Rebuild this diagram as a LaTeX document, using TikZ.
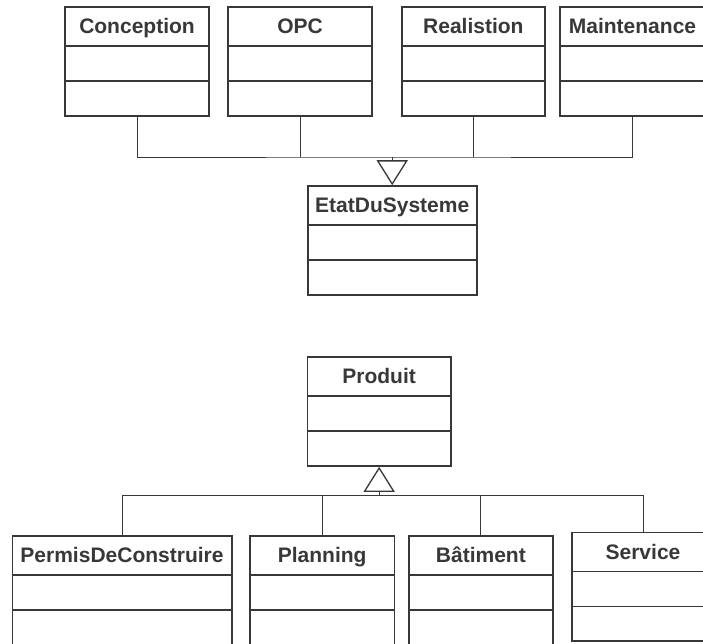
\documentclass[tikz,border=0pt]{standalone}
\usepackage{fontspec}
\setmainfont{Liberation Sans}
\usetikzlibrary{arrows.meta,fit}
\definecolor{ink}{HTML}{383838}
\tikzset{
  clsbox/.style={draw=ink, line width=1.6pt, inner sep=0pt},
  rowline/.style={draw=ink, line width=1.6pt},
  clstitle/.style={text=ink, anchor=base, inner sep=0pt, font=\fontsize{21}{25}\selectfont\bfseries},
  conn/.style={draw=ink, line width=0.9pt},
  gen/.style={conn, -{Triangle[open, length=25pt, width=31pt, line width=1.3pt]}}
}
\newcommand\umlclass[6]{% name, left, right, top, total height, text
  \node[clsbox, fit={(#2,#4) (#3,#4+#5)}] (#1) {};
  \draw[rowline] ([yshift=-40pt]#1.north west) -- ([yshift=-40pt]#1.north east);
  \draw[rowline] ([yshift=-75pt]#1.north west) -- ([yshift=-75pt]#1.north east);
  \node[clstitle] (#1-t) at ([yshift=-27.5pt]#1.north) {#6};
}
\begin{document}
\begin{tikzpicture}[x=1pt,y=-1pt]
  \useasboundingbox[fill=white] (0,0) rectangle (703,643);
  \clip (0,0) rectangle (703,643);
  % top group
  \umlclass{conc}{65}{209}{7}{109}{Conception}
  \umlclass{opc}{228}{372}{7}{109}{OPC}
  \umlclass{real}{401.7}{545}{7}{109}{Realistion}
  \umlclass{maint}{560}{705}{7}{109}{Maintenance}
  \umlclass{etat}{307.7}{476.7}{186}{109}{EtatDuSysteme}
  \coordinate (tbus) at (392.2,157);
  \draw[conn] (conc.south) |- (tbus) -| (maint.south);
  \draw[conn] (opc.south) -- (opc.south |- tbus);
  \draw[conn] (real.south) -- (real.south |- tbus);
  \draw[gen] (tbus) -- (etat.north);
  % bottom group
  \umlclass{prod}{307.3}{451}{357}{109}{Produit}
  \umlclass{permis}{12.3}{231.7}{536}{109}{PermisDeConstruire}
  \umlclass{plan}{250}{394.3}{536}{109}{Planning}
  \umlclass{bat}{409}{552.7}{536}{109}{Bâtiment}
  \umlclass{serv}{571.7}{714.3}{532.3}{108.4}{Service}
  \coordinate (bbus) at (379.15,495);
  \draw[conn] (permis.north) |- (bbus) -| (serv.north);
  \draw[conn] (plan.north) -- (plan.north |- bbus);
  \draw[conn] (bat.north) -- (bat.north |- bbus);
  \draw[gen] (bbus) -- (prod.south);
\end{tikzpicture}
\end{document}
